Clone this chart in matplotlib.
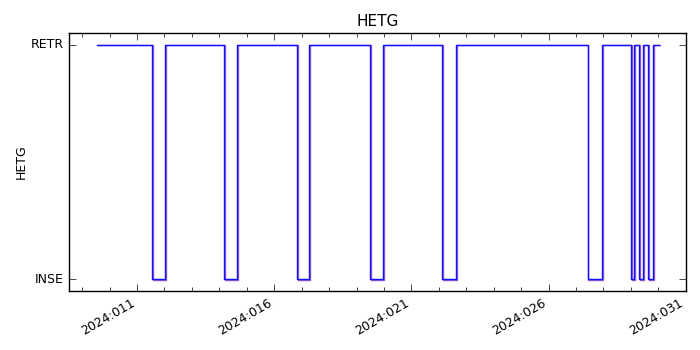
import matplotlib
matplotlib.use("Agg")
import matplotlib.pyplot as plt
import matplotlib.dates as mdates
import matplotlib.transforms as mtrans
from datetime import datetime, timedelta

plt.style.use("classic")

# Day-of-year 2024 transition times and states (1 = RETR, 0 = INSE)
doy_times = [9.54, 11.55, 12.02, 14.18, 14.65, 16.84, 17.28, 19.50, 19.98,
             22.13, 22.64, 27.42, 27.96, 29.01, 29.13, 29.31, 29.46, 29.64,
             29.80, 30.03]
states = [1, 0, 1, 0, 1, 0, 1, 0, 1, 0, 1, 0, 1, 0, 1, 0, 1, 0, 1, 1]
state_labels = ["INSE", "RETR"]
title = "HETG"
xlim_doy = (8.52, 31.01)

def doy_to_dt(d):
    return datetime(2024, 1, 1) + timedelta(days=d - 1)

times = [doy_to_dt(d) for d in doy_times]

fig = plt.figure(figsize=(7, 3.5), dpi=100)
fig.patch.set_facecolor("white")
ax = fig.add_axes([0.0986, 0.169, 0.8814, 0.7367])

off = mtrans.offset_copy(ax.transData, fig=fig, x=0.8, y=-0.6, units="dots")
ax.step(times, states, where="post", color="#9a5fd0", lw=1.0, transform=off)
ax.step(times, states, where="post", color="#1010ff", lw=1.0)

ax.set_xlim(doy_to_dt(xlim_doy[0]), doy_to_dt(xlim_doy[1]))
ax.set_ylim(-0.05, 1.05)
ax.set_yticks([0, 1])
ax.set_yticklabels(state_labels, fontsize=9)
ax.set_ylabel(title, fontsize=9, labelpad=2)
ax.set_title(title, fontsize=11)

ax.xaxis.set_major_locator(mdates.DayLocator(bymonthday=[1, 6, 11, 16, 21, 26, 31]))
ax.xaxis.set_minor_locator(mdates.DayLocator())
ax.xaxis.set_major_formatter(mdates.DateFormatter("%Y:%j"))
for lab in ax.get_xticklabels():
    lab.set_rotation(30)
    lab.set_ha("right")
    lab.set_fontsize(9)
ax.tick_params(axis="y", which="major", length=5, pad=4)
ax.tick_params(axis="x", which="major", length=5, pad=4)
ax.tick_params(axis="x", which="minor", length=3)

fig.savefig("out.png", dpi=100, facecolor="white")
